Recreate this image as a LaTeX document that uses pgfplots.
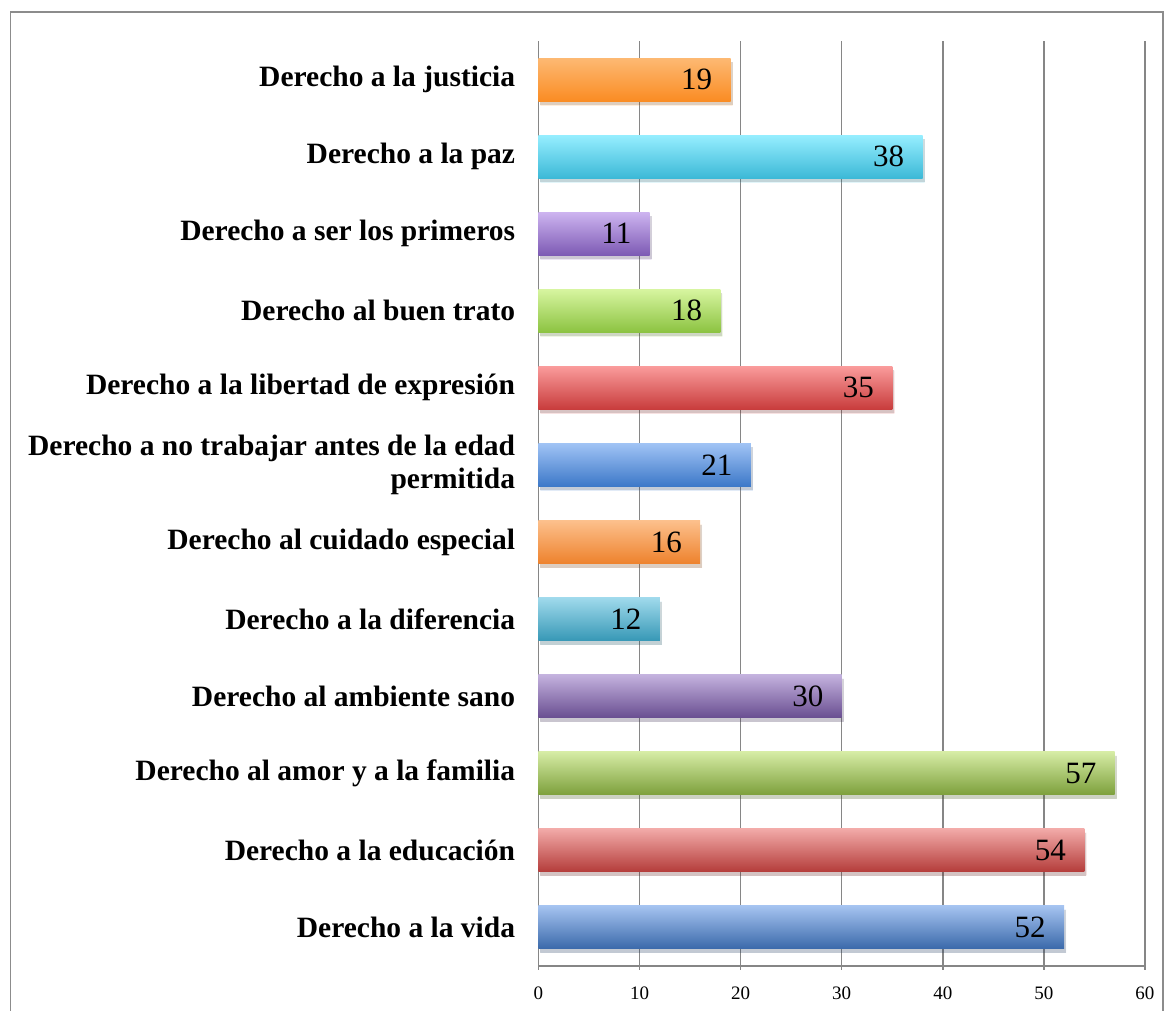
\documentclass[border=0pt]{standalone}
\usepackage{fontspec}
\setmainfont{Liberation Serif}
\usepackage{pgfplots}
\pgfplotsset{compat=1.18}
\usetikzlibrary{shadows}
\definecolor{axgray}{HTML}{868686}
\definecolor{frgray}{HTML}{8C8C8C}
\tikzset{barsh/.style={draw=none, drop shadow={opacity=0.15, shadow xshift=1pt, shadow yshift=-2pt, fill=black}}}
\begin{document}
\begin{tikzpicture}
\useasboundingbox (0,0) rectangle (586.5pt,505.5pt);
\draw[frgray, line width=0.9pt] (5.25pt,-2pt) -- (5.25pt,499.5pt) -- (581.5pt,499.5pt) -- (581.5pt,-2pt);
\begin{axis}[
  at={(269.25pt,22.5pt)}, anchor=south west,
  scale only axis, width=303.25pt, height=462.5pt,
  xmin=0, xmax=60, ymin=-0.5, ymax=11.5,
  xtick={0,10,...,60},
  ytick={0,...,11},
  yticklabels={{Derecho a la vida},{Derecho a la educación},{Derecho al amor y a la familia},{Derecho al ambiente sano},{Derecho a la diferencia},{Derecho al cuidado especial},{Derecho a no trabajar antes de la edad\\permitida},{Derecho a la libertad de expresión},{Derecho al buen trato},{Derecho a ser los primeros},{Derecho a la paz},{Derecho a la justicia}},
  axis x line*=bottom, axis y line*=left,
  axis line style={axgray, line width=0.8pt, -},
  xmajorgrids, grid style={axgray, line width=0.7pt},
  x tick style={axgray, line width=0.7pt}, major tick length=4pt,
  xtick align=center,
  y tick style={draw=none},
  yticklabel style={font=\fontsize{14.75}{16.5}\selectfont\bfseries, align=right, inner sep=0pt, xshift=-7.5pt},
  xticklabel style={font=\fontsize{9.5}{11}\selectfont, inner sep=0pt, yshift=-8pt},
  /pgf/number format/assume math mode=true,
  xbar, bar width=21.5pt, bar shift=0pt,
  nodes near coords,
  every node near coord/.append style={font=\fontsize{15.5}{16}\selectfont, anchor=east, inner sep=0pt, xshift=-9pt, text=black},
]
\addplot[barsh, top color={rgb,255:red,165;green,195;blue,240}, bottom color={rgb,255:red,58;green,105;blue,170}] coordinates {(52,0)};
\addplot[barsh, top color={rgb,255:red,242;green,170;blue,168}, bottom color={rgb,255:red,180;green,60;blue,58}] coordinates {(54,1)};
\addplot[barsh, top color={rgb,255:red,214;green,236;blue,165}, bottom color={rgb,255:red,125;green,160;blue,60}] coordinates {(57,2)};
\addplot[barsh, top color={rgb,255:red,196;green,178;blue,222}, bottom color={rgb,255:red,105;green,78;blue,145}] coordinates {(30,3)};
\addplot[barsh, top color={rgb,255:red,160;green,218;blue,236}, bottom color={rgb,255:red,55;green,152;blue,182}] coordinates {(12,4)};
\addplot[barsh, top color={rgb,255:red,252;green,192;blue,140}, bottom color={rgb,255:red,238;green,130;blue,45}] coordinates {(16,5)};
\addplot[barsh, top color={rgb,255:red,160;green,195;blue,245}, bottom color={rgb,255:red,60;green,120;blue,200}] coordinates {(21,6)};
\addplot[barsh, top color={rgb,255:red,250;green,155;blue,155}, bottom color={rgb,255:red,200;green,60;blue,60}] coordinates {(35,7)};
\addplot[barsh, top color={rgb,255:red,215;green,245;blue,160}, bottom color={rgb,255:red,140;green,195;blue,65}] coordinates {(18,8)};
\addplot[barsh, top color={rgb,255:red,205;green,180;blue,240}, bottom color={rgb,255:red,125;green,90;blue,180}] coordinates {(11,9)};
\addplot[barsh, top color={rgb,255:red,150;green,238;blue,255}, bottom color={rgb,255:red,60;green,185;blue,215}] coordinates {(38,10)};
\addplot[barsh, top color={rgb,255:red,253;green,185;blue,115}, bottom color={rgb,255:red,250;green,140;blue,35}] coordinates {(19,11)};
\end{axis}
\end{tikzpicture}
\end{document}
